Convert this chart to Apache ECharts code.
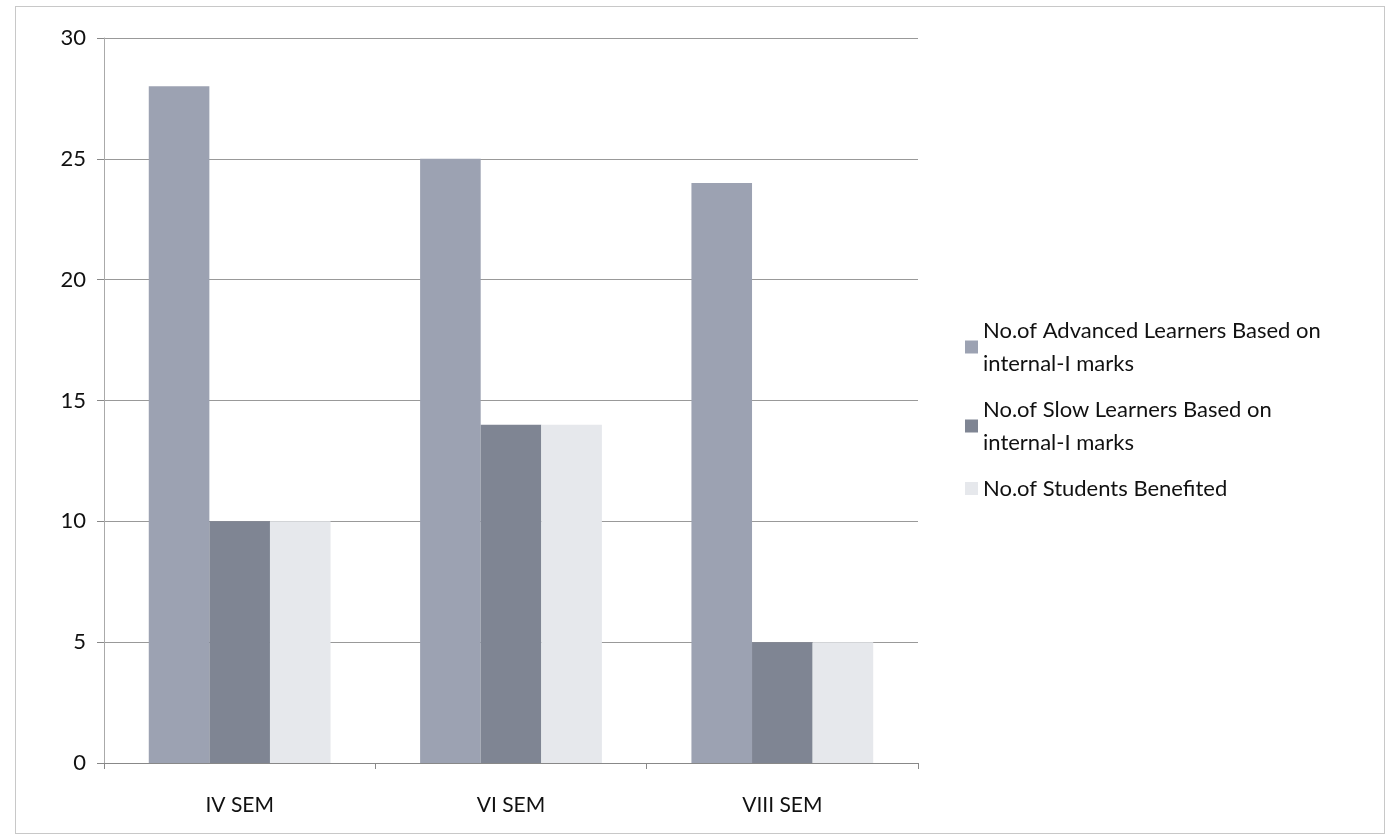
<!DOCTYPE html>
<html><head><meta charset="utf-8">
<script src="https://cdn.jsdelivr.net/npm/echarts@6/dist/echarts.min.js"></script>
<style>
html,body{margin:0;padding:0;background:#fff;}
#c{position:absolute;left:15px;top:6px;width:1370px;height:828px;border:1px solid #c8c8c8;box-sizing:border-box;}
</style></head>
<body><div id="c"></div>
<script>
const categories = ["IV SEM", "VI SEM", "VIII SEM"];
const advanced = [28, 25, 24];
const slow = [10, 14, 5];
const benefited = [10, 14, 5];
const seriesNames = ["No.of Advanced Learners Based on\ninternal-I marks", "No.of Slow Learners Based on\ninternal-I marks", "No.of Students Benefited"];

const chart = echarts.init(document.getElementById('c'));
const font = 'Lato, "Open Sans", sans-serif';
chart.setOption({
  animation: false,
  textStyle: {fontFamily: font},
  grid: {left: 88, right: 466, top: 31, bottom: 70},
  legend: {
    orient: 'vertical', left: 944, top: 302,
    itemWidth: 13, itemHeight: 13, itemGap: 13,
    icon: 'rect',
    textStyle: {fontSize: 22, color: '#111', lineHeight: 33, fontFamily: font},
    data: seriesNames
  },
  xAxis: {
    type: 'category', data: categories,
    axisLine: {lineStyle: {color: '#888'}},
    axisTick: {show: true, lineStyle: {color: '#888'}, length: 6},
    axisLabel: {fontSize: 21, color: '#111', margin: 32, fontFamily: font}
  },
  yAxis: {
    type: 'value', min: 0, max: 30, interval: 5,
    axisLine: {show: true, lineStyle: {color: '#aaa'}},
    axisTick: {show: true, lineStyle: {color: '#888'}, length: 7},
    axisLabel: {fontSize: 22, color: '#111', margin: 18, fontFamily: font},
    splitLine: {lineStyle: {color: '#999'}}
  },
  series: [
    {name: seriesNames[0], type: 'bar', data: advanced, barGap: '0%', barCategoryGap: '33%',
     itemStyle: {color: '#9ca2b2'}},
    {name: seriesNames[1], type: 'bar', data: slow, barGap: '0%', barCategoryGap: '33%',
     itemStyle: {color: '#7f8593'}},
    {name: seriesNames[2], type: 'bar', data: benefited, barGap: '0%', barCategoryGap: '33%',
     itemStyle: {color: '#e6e8ec'}}
  ]
});
</script></body></html>
